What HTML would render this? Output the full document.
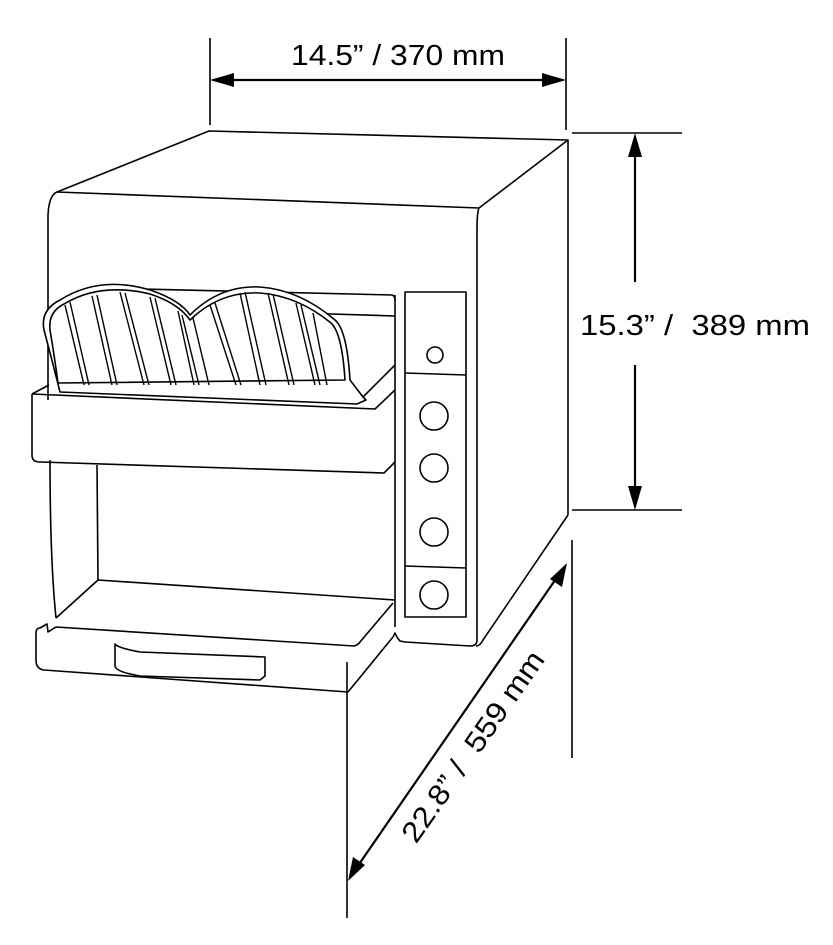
<!DOCTYPE html>
<html><head><meta charset="utf-8"><style>
html,body{margin:0;padding:0;background:#fff;}
svg{display:block;}
text{font-family:"Liberation Sans",Arial,sans-serif;fill:#000;}
</style></head><body>
<svg width="833" height="945" viewBox="0 0 833 945" xmlns="http://www.w3.org/2000/svg">
<g fill="none" stroke="#000" stroke-width="1.6" stroke-linejoin="round">
<path d="M57,192 L209,131 L568,140 L479,208 Z" fill="#fff"/>
<path d="M57,192 Q49,195 48,215 L48,400"/>
<path d="M479,208 Q477,212 477,230 L477,640 Q477,646 470,646 L405,642"/>
<line x1="568" y1="140" x2="568" y2="515"/>
<path d="M568,515 L483,640 Q480,646 476,646"/>
<path d="M50,460 Q50,560 56,618"/>
<rect x="405" y="292" width="61" height="325"/>
<line x1="405" y1="373" x2="466" y2="375"/>
<line x1="405" y1="566" x2="466" y2="568"/>
<circle cx="435" cy="355" r="8"/>
<circle cx="434" cy="416" r="14"/>
<circle cx="434" cy="468" r="14"/>
<circle cx="434" cy="532" r="14"/>
<circle cx="434" cy="595" r="14"/>
<line x1="395" y1="295" x2="395" y2="627"/>
<path d="M100,288 L392,295 Q395,296 395,300"/>
<line x1="300" y1="313" x2="395" y2="316"/>
<path d="M395,365 L363,397"/>
<path d="M32,394 L49,385" />
<path d="M32,394 L32,455 Q32,462 40,462 L384,473 L395,462"/>
<path d="M32,394 L375,409 L395,390"/>
<line x1="97" y1="465" x2="98" y2="580"/>
<line x1="98" y1="580" x2="395" y2="600"/>
<path d="M98,580 L56,618"/>
<path d="M40,628 L47,624 L48,632 L56,627 L354,646 Q358,645 360,642 L393,603"/>
<path d="M40,628 Q36,628 36,633 L36,660 Q36,669 44,670 L348,692 L393,637"/>
<path d="M393,637 L395,633 Q397,638 400,641 L405,642"/>
<path d="M115,644 L115,666 Q116,672 140,676 L260,680 L265,676 L265,657 L140,652 Q118,648 115,644 Z"/>
<path d="M44,330 Q40,310 60,300 Q100,275 150,290 Q180,300 190,315 Q220,285 260,287 Q300,290 335,320 Q347,330 350,380 L363,397 L366,400 L357,404 L60,392 Q52,360 44,330 Z" fill="#fff"/>
<path d="M50,330 Q48,312 64,304 Q100,282 150,294 Q178,303 190,320 Q220,291 260,293 Q298,296 331,323 Q342,333 345,380 L58,383 Q55,360 50,330"/>
<g stroke-width="1.4">
<path d="M65,305 L84,385"/><path d="M70,302 L89,385"/>
<path d="M92,296 L112,385"/><path d="M97,295 L117,385"/>
<path d="M120,292 L144,385"/><path d="M125,293 L149,385"/>
<path d="M150,297 L171,385"/><path d="M155,298 L176,385"/>
<path d="M178,311 L194,385"/><path d="M182,315 L199,385"/>
<path d="M193,318 L209,385"/><path d="M210,305 L236,385"/><path d="M215,303 L241,385"/>
<path d="M240,293 L260,385"/><path d="M245,292 L266,385"/>
<path d="M268,293 L289,385"/><path d="M273,294 L294,385"/>
<path d="M296,303 L315,385"/><path d="M301,305 L320,385"/>
<path d="M313,313 L327,385"/>
</g>
<line x1="210" y1="38" x2="210" y2="125"/>
<line x1="566" y1="38" x2="566" y2="130"/>
<line x1="572" y1="133" x2="682" y2="133"/>
<line x1="572" y1="510" x2="682" y2="510"/>
<line x1="347" y1="662" x2="347" y2="918"/>
<line x1="572" y1="540" x2="572" y2="758"/>
</g>
<g stroke="#000" stroke-width="2.2" fill="none">
<line x1="225" y1="80" x2="551" y2="80"/>
<line x1="635" y1="148" x2="635" y2="282"/>
<line x1="635" y1="365" x2="635" y2="495"/>
<line x1="560" y1="573" x2="355" y2="870"/>
</g>
<g fill="#000">
<path d="M210,80 L234,73 L234,87 Z"/>
<path d="M566,80 L542,73 L542,87 Z"/>
<path d="M635,133 L628,157 L642,157 Z"/>
<path d="M635,510 L628,486 L642,486 Z"/>
<path d="M567,563 L562,587 L550,579 Z"/>
<path d="M348,881 L353,857 L365,865 Z"/>
</g>
<text x="291" y="65" font-size="29" textLength="214" lengthAdjust="spacingAndGlyphs">14.5” / 370 mm</text>
<text x="580" y="335" font-size="29" textLength="230" lengthAdjust="spacingAndGlyphs" xml:space="preserve">15.3” /&#160; 389 mm</text>
<text x="-113" y="0" font-size="29" textLength="226" lengthAdjust="spacingAndGlyphs" transform="translate(481,752) rotate(-55)" xml:space="preserve">22.8” /&#160; 559 mm</text>
</svg>
</body></html>
